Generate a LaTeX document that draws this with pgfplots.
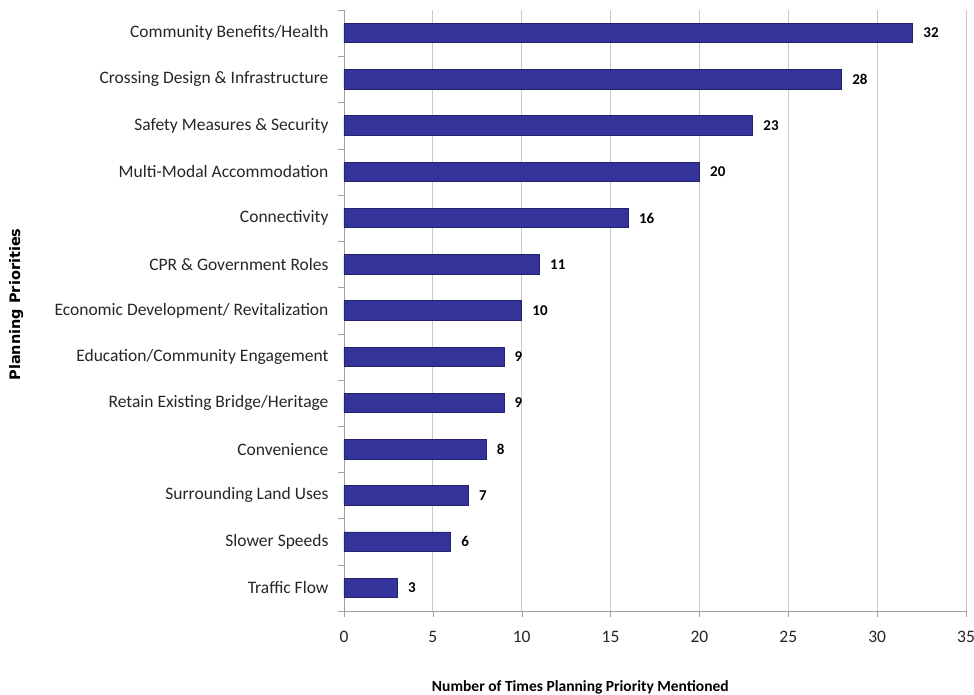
\documentclass[border=0pt]{standalone}
\usepackage{pgfplots}
\pgfplotsset{compat=1.18}
\usepackage{fontspec}
\setmainfont{Carlito}
\newfontfamily\dejavu{DejaVu Sans}
\definecolor{barfill}{HTML}{333399}
\definecolor{barline}{HTML}{22226E}
\definecolor{gridc}{HTML}{C8C8C8}
\definecolor{axisc}{HTML}{A0A0A0}
\begin{document}
\begin{tikzpicture}
\begin{axis}[
  at={(0,0)}, anchor=south west,
  scale only axis, width=622pt, height=601pt,
  xbar, bar width=0.42,
  xmin=0, xmax=35, ymin=-0.5, ymax=12.5,
  xtick={0,5,...,35},
  ytick={0,...,12},
  yticklabels={Traffic Flow, Slower Speeds, Surrounding Land Uses, Convenience, Retain Existing Bridge/Heritage, Education/Community Engagement, Economic Development/ Revitalization, CPR \& Government Roles, Connectivity, Multi-Modal Accommodation, Safety Measures \& Security, Crossing Design \& Infrastructure, Community Benefits/Health},
  minor ytick={-0.5,0.5,...,12.5},
  major y tick style={draw=none},
  minor y tick style={draw=axisc},
  minor tick length=6pt,
  major tick length=6pt,
  tick align=outside,
  x tick style={draw=axisc},
  axis x line*=bottom, axis y line*=left,
  axis line style={draw=axisc, -},
  xmajorgrids, major grid style={draw=gridc, line width=0.8pt},
  /pgf/number format/assume math mode=true,
  ticklabel style={font=\fontsize{17.5}{20}\selectfont, text=black!85},
  yticklabel style={xshift=-6pt},
  xticklabel style={yshift=-11pt},
  nodes near coords,
  nodes near coords style={font=\bfseries\fontsize{15}{17}\selectfont, anchor=west, xshift=7pt},
  xlabel={Number of Times Planning Priority Mentioned},
  xlabel style={font=\bfseries\fontsize{15.5}{18}\selectfont, at={(axis description cs:0.38,0)}, anchor=north, yshift=-66pt},
  ylabel={Planning Priorities},
  ylabel style={font=\dejavu\bfseries\fontsize{14.5}{17}\selectfont, at={(axis description cs:-0.527,0.51)}, anchor=center},
]
\addplot[fill=barfill, draw=barline, line width=0.8pt] coordinates {
(3,0) (6,1) (7,2) (8,3) (9,4) (9,5) (10,6) (11,7) (16,8) (20,9) (23,10) (28,11) (32,12)};
\end{axis}
\pgfresetboundingbox
\useasboundingbox (-344pt,-83pt) rectangle (630pt,611pt);
\end{tikzpicture}
\end{document}
